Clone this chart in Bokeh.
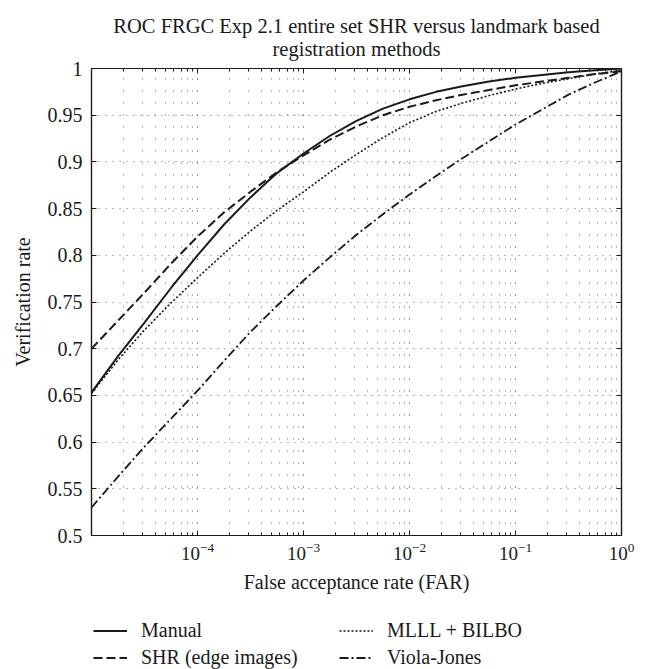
from bokeh.plotting import figure
from bokeh.layouts import column
from bokeh.models import (LogAxis, LinearAxis, FixedTicker, CustomJSTickFormatter,
                          Legend, LegendItem, Title)
from bokeh.embed import file_html
from bokeh.resources import INLINE

# ---- data ----
far = [1e-5, 1.78e-5, 3.16e-5, 5.62e-5, 1e-4, 1.78e-4, 3.16e-4, 5.62e-4, 1e-3, 1.78e-3,
       3.16e-3, 5.62e-3, 1e-2, 1.78e-2, 3.16e-2, 5.62e-2, 0.1, 0.178, 0.316, 0.562, 1.0]
manual = [0.653, 0.692, 0.728, 0.765, 0.800, 0.833, 0.862, 0.888, 0.909, 0.928, 0.944,
          0.957, 0.967, 0.975, 0.981, 0.986, 0.990, 0.993, 0.996, 0.998, 1.000]
shr = [0.700, 0.730, 0.760, 0.791, 0.820, 0.846, 0.868, 0.889, 0.907, 0.924, 0.938,
       0.950, 0.959, 0.966, 0.972, 0.977, 0.982, 0.986, 0.990, 0.994, 0.997]
mlll = [0.652, 0.688, 0.720, 0.749, 0.776, 0.802, 0.826, 0.848, 0.868, 0.889, 0.908,
        0.926, 0.942, 0.954, 0.963, 0.971, 0.978, 0.984, 0.989, 0.994, 0.998]
viola = [0.530, 0.563, 0.595, 0.625, 0.655, 0.687, 0.718, 0.746, 0.773, 0.798, 0.822,
         0.844, 0.865, 0.885, 0.904, 0.922, 0.940, 0.956, 0.972, 0.985, 0.997]

x_major = [1e-4, 1e-3, 1e-2, 1e-1, 1.0]
x_minor = [k * 10.0 ** e for e in range(-5, 0) for k in range(1, 10)]
y_ticks = [0.5, 0.55, 0.6, 0.65, 0.7, 0.75, 0.8, 0.85, 0.9, 0.95, 1.0]

title_text = "ROC FRGC Exp 2.1 entire set SHR versus landmark based\nregistration methods"
x_label = "False acceptance rate (FAR)"
y_label = "Verification rate"
names = ["Manual", "SHR (edge images)", "MLLL + BILBO", "Viola-Jones"]

FONT = "Liberation Serif"
INK = "#1a1a1a"
GRID = "#707070"

# line styles
S_MANUAL = dict(line_color=INK, line_width=2.0)
S_SHR = dict(line_color=INK, line_width=2.0, line_dash="9 4")
S_MLLL = dict(line_color=INK, line_width=1.6, line_dash="2 2")
S_VIOLA = dict(line_color=INK, line_width=1.8, line_dash="9 3 2 3")

p = figure(width=639, height=608, x_axis_type="log", x_range=(1e-5, 1.0), y_range=(0.5, 1.0),
           output_backend="svg", toolbar_location=None, title=None,
           min_border_left=91, min_border_right=18, min_border_top=68, min_border_bottom=73)
p.background_fill_color = "white"
p.border_fill_color = "white"
p.outline_line_color = INK
p.outline_line_width = 1.2

xt = FixedTicker(ticks=x_major, minor_ticks=x_minor)
yt = FixedTicker(ticks=y_ticks, minor_ticks=[])

# bottom axis
xa = p.xaxis[0]
xa.ticker = xt
xa.axis_label = x_label
xa.axis_label_text_font = FONT
xa.axis_label_text_font_size = "20px"
xa.axis_label_text_font_style = "normal"
xa.axis_label_text_color = INK
xa.axis_label_standoff = 8
xa.major_label_text_font = FONT
xa.major_label_text_font_size = "19px"
xa.major_label_text_color = INK
xa.major_label_standoff = 7

# left axis
ya = p.yaxis[0]
ya.ticker = yt
ya.formatter = CustomJSTickFormatter(code="return Number(tick.toFixed(2)).toString();")
ya.axis_label = y_label
ya.axis_label_text_font = FONT
ya.axis_label_text_font_size = "20px"
ya.axis_label_text_font_style = "normal"
ya.axis_label_text_color = INK
ya.axis_label_standoff = 11
ya.major_label_text_font = FONT
ya.major_label_text_font_size = "20px"
ya.major_label_text_color = INK
ya.major_label_standoff = 9

# mirrored axes (ticks only)
ta = LogAxis(ticker=xt, formatter=CustomJSTickFormatter(code="return '';"))
ra = LinearAxis(ticker=yt, formatter=CustomJSTickFormatter(code="return '';"))
p.add_layout(ta, "above")
p.add_layout(ra, "right")

for ax in [xa, ya, ta, ra]:
    ax.axis_line_color = INK
    ax.axis_line_width = 1.2
    ax.major_tick_line_color = INK
    ax.minor_tick_line_color = INK
    ax.major_tick_in = 5
    ax.major_tick_out = 0
    ax.minor_tick_in = 3
    ax.minor_tick_out = 0
for ax in [ta, ra]:
    ax.major_label_standoff = 0

# grids (dotted, incl. minor x grid)
p.xgrid.ticker = xt
p.ygrid.ticker = yt
p.xgrid.grid_line_color = GRID
p.xgrid.grid_line_dash = "1 11"
p.xgrid.grid_line_width = 1
p.xgrid.minor_grid_line_color = GRID
p.xgrid.minor_grid_line_dash = "1 11"
p.xgrid.minor_grid_line_width = 1
p.ygrid.grid_line_color = GRID
p.ygrid.grid_line_dash = "1 6"
p.ygrid.grid_line_width = 1

# two-line title
p.add_layout(Title(text=title_text, align="center", text_align="center",
                   text_font=FONT, text_font_size="20.5px", text_line_height=1.08,
                   text_font_style="normal", text_color=INK, standoff=16), "above")

# curves
r1 = p.line(far, manual, **S_MANUAL)
r2 = p.line(far, shr, **S_SHR)
r3 = p.line(far, mlll, **S_MLLL)
r4 = p.line(far, viola, **S_VIOLA)

# ---- legend strip below the chart (its lines lie outside its visible range) ----
lf = figure(width=639, height=61, x_range=(10, 11), y_range=(10, 11),
            output_backend="svg", toolbar_location=None, title=None,
            x_axis_location=None, y_axis_location=None,
            min_border_left=0, min_border_right=0, min_border_top=0, min_border_bottom=0)
lf.outline_line_color = None
lf.grid.visible = False
lf.background_fill_color = "white"
lf.border_fill_color = "white"
k1 = lf.line(far, manual, **S_MANUAL)
k2 = lf.line(far, shr, **S_SHR)
k3 = lf.line(far, mlll, **S_MLLL)
k4 = lf.line(far, viola, **S_VIOLA)

common = dict(orientation="vertical", border_line_color=None, background_fill_alpha=0,
              label_text_font=FONT, label_text_font_size="20px", label_text_color=INK,
              glyph_width=34, glyph_height=23, label_height=23, spacing=4, padding=0,
              margin=0, label_standoff=14)
leg_a = Legend(items=[LegendItem(label=names[0], renderers=[k1]),
                      LegendItem(label=names[1], renderers=[k2])],
               location=(2, 0), **common)
leg_b = Legend(items=[LegendItem(label=names[2], renderers=[k3]),
                      LegendItem(label=names[3], renderers=[k4])],
               location=(248, 0), **common)
lf.add_layout(leg_a)
lf.add_layout(leg_b)

page = column(p, lf, spacing=0)
open("out.html", "w").write(file_html(page, INLINE))
